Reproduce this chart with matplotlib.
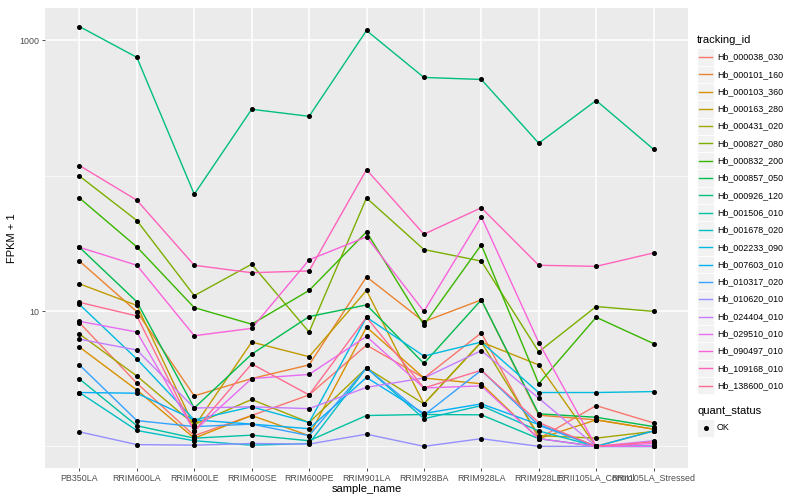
import matplotlib
matplotlib.use("Agg")
import matplotlib.pyplot as plt
from matplotlib.patches import Rectangle
import numpy as np

plt.rcParams['font.family'] = ['Liberation Sans', 'DejaVu Sans']

samples = ['PB350LA', 'RRIM600LA', 'RRIM600LE', 'RRIM600SE', 'RRIM600PE',
           'RRIM901LA', 'RRIM928BA', 'RRIM928LA', 'RRIM928LE',
           'RRII105LA_Control', 'RRII105LA_Stressed']

tracking_ids = ['Hb_000038_030', 'Hb_000101_160', 'Hb_000103_360', 'Hb_000163_280',
                'Hb_000431_020', 'Hb_000827_080', 'Hb_000832_200', 'Hb_000857_050',
                'Hb_000926_120', 'Hb_001506_010', 'Hb_001678_020', 'Hb_002233_090',
                'Hb_007603_010', 'Hb_010317_020', 'Hb_010620_010', 'Hb_024404_010',
                'Hb_029510_010', 'Hb_090497_010', 'Hb_109168_010', 'Hb_138600_010']

# FPKM + 1, one row per tracking_id, columns follow samples
fpkm = [
    [8.2, 2.93, 1.2, 1.69, 2.4, 5.6, 3.2, 6.9, 1.14, 2.0, 1.49],
    [23.4, 9.9, 2.36, 3.17, 4.0, 17.9, 8.35, 12.1, 1.7, 1.57, 1.34],
    [5.42, 2.61, 1.15, 1.69, 1.2, 7.6, 3.2, 2.9, 1.14, 1.57, 1.34],
    [15.9, 11.0, 1.4, 5.9, 4.6, 14.2, 2.06, 5.9, 4.0, 1.0, 1.3],
    [6.76, 3.31, 1.45, 2.22, 1.5, 3.8, 2.06, 5.9, 1.2, 1.15, 1.29],
    [99.5, 46.7, 13.0, 22.2, 7.0, 68.5, 28.5, 23.4, 5.0, 10.8, 9.95],
    [68.5, 29.8, 10.6, 8.0, 14.2, 38.5, 7.9, 30.9, 2.9, 9.0, 5.75],
    [29.6, 11.7, 1.92, 4.8, 9.1, 11.1, 4.1, 12.1, 1.74, 1.64, 1.4],
    [1268, 750, 73, 310, 275, 1185, 533, 515, 174, 360, 157],
    [3.15, 1.42, 1.15, 1.21, 1.1, 1.69, 1.72, 1.71, 1.14, 1.0, 1.0],
    [2.5, 1.31, 1.1, 1.02, 1.05, 3.8, 1.6, 2.0, 1.3, 1.0, 1.0],
    [11.2, 4.42, 1.57, 1.96, 1.5, 9.0, 4.65, 5.9, 2.5, 2.5, 2.54],
    [2.5, 2.47, 1.57, 1.46, 1.35, 3.23, 1.75, 2.06, 1.45, 1.0, 1.3],
    [4.0, 1.55, 1.4, 1.46, 1.2, 3.8, 1.7, 3.65, 1.43, 1.0, 1.0],
    [1.28, 1.03, 1.02, 1.05, 1.04, 1.23, 1.0, 1.14, 1.0, 1.0, 1.0],
    [6.2, 5.15, 1.92, 1.96, 1.9, 2.73, 3.2, 5.1, 2.27, 1.0, 1.1],
    [8.4, 7.0, 1.3, 3.17, 3.4, 6.5, 2.7, 2.8, 1.14, 1.0, 1.0],
    [29.6, 21.8, 6.57, 7.45, 23.9, 35.4, 9.95, 49.7, 5.85, 1.0, 1.05],
    [119, 66, 21.8, 19.2, 19.8, 111, 37, 58, 21.8, 21.4, 26.9],
    [11.6, 9.2, 1.3, 4.07, 2.4, 9.0, 2.7, 3.65, 1.5, 1.0, 1.08],
]

# ggplot hue palette for 20 levels
colors = ['#F8766D', '#EA8331', '#D89000', '#C09B00', '#A3A500', '#7CAE00',
          '#39B600', '#00BB4E', '#00BF7D', '#00C1A3', '#00BFC4', '#00BAE0',
          '#00B0F6', '#35A2FF', '#9590FF', '#C77CFF', '#E76BF3', '#FA62DB',
          '#FF62BC', '#FF6C91']

W, H = 800, 500
fig = plt.figure(figsize=(8, 5), dpi=100)
ax = fig.add_axes([45 / W, 32 / H, 643 / W, 460 / H])
ax.set_facecolor('#EBEBEB')

x = np.arange(len(samples))
for vals, c in zip(fpkm, colors):
    ax.plot(x, vals, color=c, lw=1.0, zorder=3)
for vals in fpkm:
    ax.plot(x, vals, 'o', color='black', ms=2.6, zorder=4)

ax.set_yscale('log')
ax.set_ylim(10 ** -0.16, 10 ** 3.24)
ax.set_xlim(-0.6, len(samples) - 0.4)

ax.set_yticks([10, 1000])
ax.set_yticklabels(['10', '1000'])
ax.set_yticks([1, 100], minor=True)
ax.yaxis.set_minor_formatter(plt.NullFormatter())
ax.set_xticks(x)
ax.set_xticklabels(samples)

ax.grid(True, which='major', color='white', lw=1.1, zorder=1)
ax.grid(True, which='minor', axis='y', color='white', lw=0.5, zorder=1)
ax.set_axisbelow(True)
for s in ax.spines.values():
    s.set_visible(False)
ax.tick_params(axis='both', which='major', length=2.5, width=0.6, color='#333333',
               labelsize=6.4, labelcolor='#4D4D4D', pad=1.5)
ax.tick_params(axis='y', which='minor', length=0)

ax.set_xlabel('sample_name', fontsize=8, labelpad=1)
ax.set_ylabel('FPKM + 1', fontsize=8, labelpad=1.5)

# legend: tracking_id
def fx(px):
    return px / W

def fy(py):
    return 1 - py / H

key = 17.3
fig.text(fx(697), fy(40), 'tracking_id', fontsize=8, va='center', ha='left')
for i, (name, c) in enumerate(zip(tracking_ids, colors)):
    yc = 57 + i * key
    fig.patches.append(Rectangle((fx(697), fy(yc + key / 2)), key / W, key / H,
                                 transform=fig.transFigure, facecolor='#F2F2F2',
                                 edgecolor='white', lw=0.6))
    fig.lines.append(plt.Line2D([fx(699), fx(711.5)], [fy(yc), fy(yc)],
                                transform=fig.transFigure, color=c, lw=1.0))
    fig.text(fx(717), fy(yc), name, fontsize=6.4, va='center', ha='left')

fig.text(fx(697), fy(411), 'quant_status', fontsize=8, va='center', ha='left')
yc = 428
fig.patches.append(Rectangle((fx(697), fy(yc + key / 2)), key / W, key / H,
                             transform=fig.transFigure, facecolor='#F2F2F2',
                             edgecolor='white', lw=0.6))
fig.lines.append(plt.Line2D([fx(705.6)], [fy(yc)], transform=fig.transFigure,
                            marker='o', color='black', ms=2.6, ls='none'))
fig.text(fx(717), fy(yc), 'OK', fontsize=6.4, va='center', ha='left')

fig.savefig('out.png', dpi=100)
